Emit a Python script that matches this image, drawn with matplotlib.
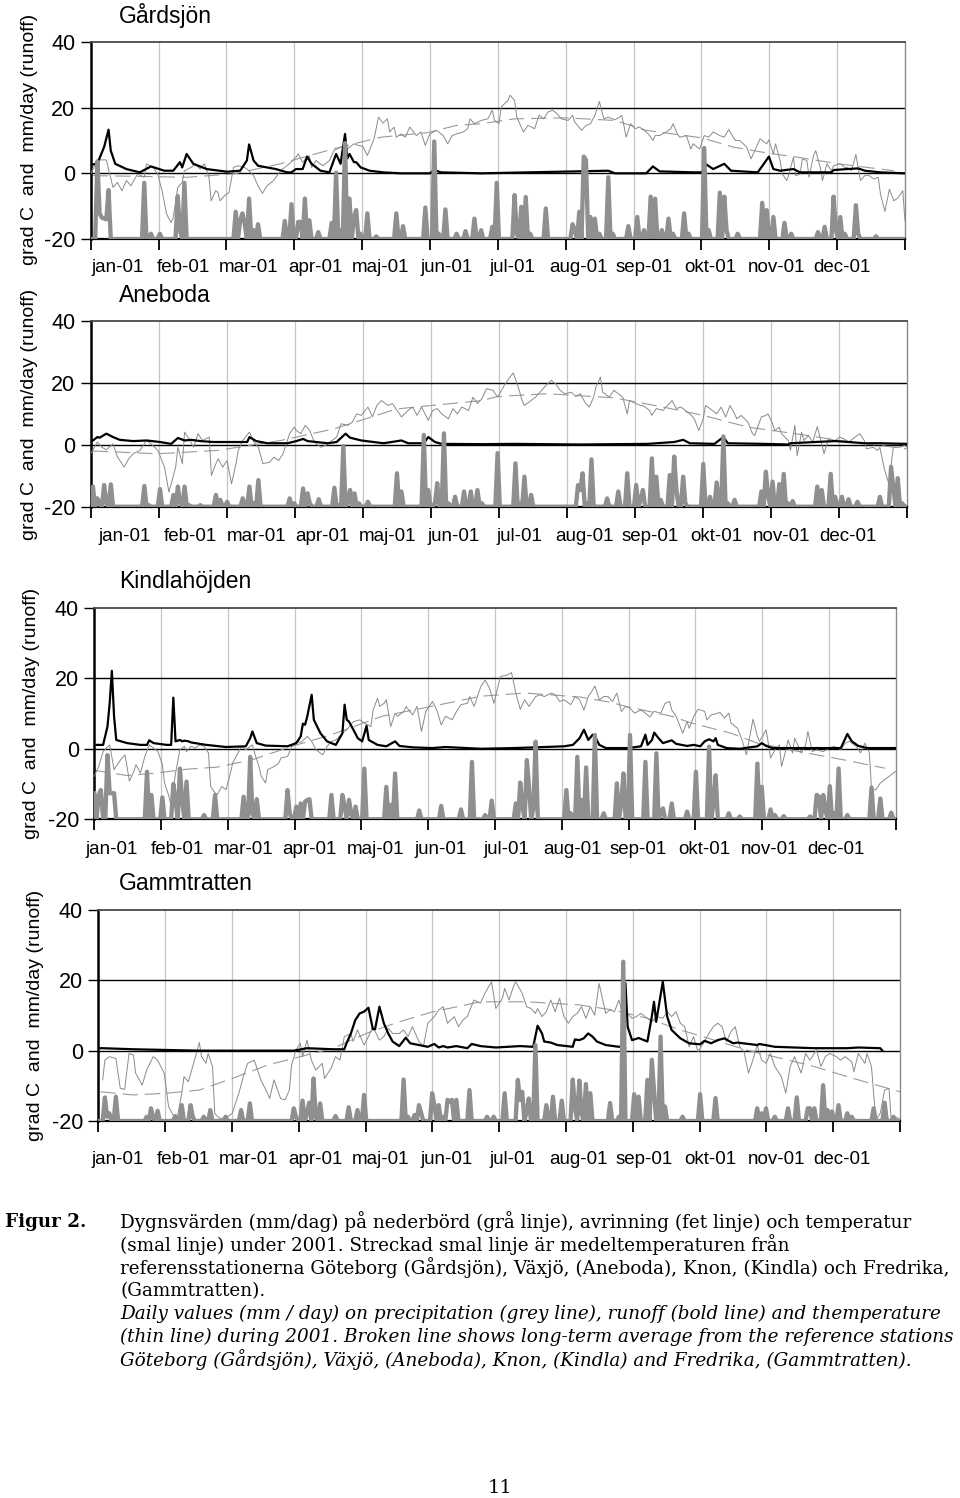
import numpy as np
import matplotlib
matplotlib.use("Agg")
import matplotlib.pyplot as plt

plt.rcParams['font.family'] = ['Liberation Sans', 'DejaVu Sans']
plt.rcParams['lines.scale_dashes'] = False

W, H = 960, 1498

months = ['jan-01', 'feb-01', 'mar-01', 'apr-01', 'maj-01', 'jun-01',
          'jul-01', 'aug-01', 'sep-01', 'okt-01', 'nov-01', 'dec-01']
stations = ['Gårdsjön', 'Aneboda', 'Kindlahöjden', 'Gammtratten']
y_ticks = [-20, 0, 20, 40]
y_tick_labels = ['-20', '0', '20', '40']
y_label = 'grad C  and  mm/day (runoff)'

# ---------------- Gårdsjön ----------------
gard_precip = [(3,23.6),(4,7.8),(5,6.5),(6,6.2),(7,6.0),(8,14.9),(24,17.1),(27,1.6),(31,1.6),(39,13.1),(40,2.7),(42,17.1),
               (65,8.3),(67,5.7),(68,7.8),(69,4.7),(71,12.3),(73,2.7),(75,4.5),(87,5.5),(90,10.6),(93,5.2),(94,5.2),(96,12.3),
               (98,5.7),(102,2.1),(108,4.9),(110,20.2),(112,2.7),(114,29.2),(116,12.3),(118,6.7),(119,8.8),(121,1.6),(124,7.8),
               (128,0.8),(137,7.8),(140,3.9),(150,9.6),(154,29.7),(156,1.6),(159,9.0),(164,1.6),(168,2.4),(172,6.2),(175,2.7),
               (180,3.7),(182,17.1),(190,13.4),(191,1.6),(193,9.8),(195,12.8),(197,1.6),(204,9.3),(216,4.5),(217,2.7),(219,8.3),
               (221,25.1),(222,24.1),(224,6.7),(226,6.2),(228,1.6),(232,18.8),(234,1.6),(241,3.9),(245,6.7),(248,2.7),(251,12.9),
               (253,12.3),(256,2.7),(259,6.2),(261,1.6),(266,7.8),(268,1.6),(275,27.7),(277,2.7),(282,14.1),(284,12.9),(285,2.7),
               (290,1.6),(301,11.0),(303,8.8),(306,6.7),(311,4.9),(314,1.6),(326,2.1),(329,3.7),(333,12.9),(334,2.7),(336,6.7),
               (338,1.6),(343,10.3),(344,1.6),(352,0.8)]
gard_runoff = [(0,2.5),(1,2.7),(3,3.0),(6,8.0),(8,13.3),(9,6.9),(11,2.9),(16,1.3),(22,0.3),(27,2.1),(33,0.8),(37,0.8),(40,3.4),
               (41,1.8),(43,5.9),(46,2.9),(52,1.3),(61,0.5),(67,0.8),(70,3.9),(71,8.8),(73,3.9),(75,2.3),(79,1.8),(83,1.3),(88,0.3),
               (90,0.3),(92,1.3),(95,1.3),(97,5.1),(99,2.9),(103,0.8),(107,0.3),(110,5.9),(112,2.9),(114,12.0),(115,4.5),(116,5.9),
               (118,3.4),(119,3.4),(121,1.8),(125,0.8),(131,0.3),(139,0.0),(152,0.0),(154,1.0),(157,0.3),(175,0.0),(232,0.8),
               (235,0.0),(249,0.0),(252,2.1),(255,0.6),(270,0.3),(274,0.3),(276,2.7),(279,1.3),(284,2.9),(287,0.8),(299,0.3),
               (304,5.1),(306,1.3),(309,0.8),(315,1.3),(318,0.3),(332,0.3),(333,1.0),(339,1.3),(344,1.5),(347,0.8),(354,0.3),(365,0.0)]
gard_temp = [(0,-0.2),(3,4.1),(7,4.1),(10,-4.3),(12,-2.8),(14,-5.3),(16,-2.2),(18,-3.8),(21,-0.2),(24,-1.2),(25,2.9),(28,1.8),
             (30,-0.2),(32,-5.3),(34,-12.4),(36,-15.0),(37,-13.5),(39,-4.3),(41,-2.8),(42,0.8),(45,1.8),(47,2.9),(49,1.3),(51,2.9),
             (53,-1.2),(54,-8.4),(56,-5.3),(57,-5.8),(58,-8.4),(60,-6.8),(62,-5.8),(64,1.8),(66,2.3),(67,2.1),(69,1.8),(71,0.8),
             (73,-0.7),(75,-3.8),(77,-6.1),(79,-3.8),(82,-2.2),(84,-0.2),(86,1.3),(89,2.9),(92,4.9),(93,5.9),(95,3.4),(98,5.4),
             (99,1.8),(101,3.9),(104,2.3),(107,3.9),(109,6.9),(112,8.0),(115,7.4),(118,9.0),(120,8.5),(122,8.2),(124,5.4),
             (127,10.5),(129,17.1),(131,15.3),(133,16.6),(134,12.6),(136,14.1),(137,11.0),(139,12.0),(141,11.0),(143,14.1),
             (146,11.5),(148,12.6),(150,8.5),(152,12.0),(155,13.1),(158,11.5),(160,9.0),(162,11.5),(164,12.0),(167,12.6),
             (169,13.6),(170,16.6),(172,15.1),(175,16.1),(178,16.6),(180,19.2),(181,16.1),(183,15.1),(184,20.2),(187,22.2),
             (188,23.8),(190,22.2),(191,17.1),(193,14.1),(194,12.6),(196,14.6),(199,13.6),(201,17.7),(203,16.6),(205,18.7),
             (207,19.2),(209,18.2),(211,16.6),(214,16.1),(216,17.7),(217,15.6),(220,13.1),(222,14.6),(224,15.1),(226,17.7),
             (228,21.9),(230,16.6),(232,17.1),(235,16.3),(237,17.1),(238,17.7),(239,14.6),(240,11.0),(242,15.1),(244,13.6),
             (246,14.1),(249,12.6),(250,12.0),(252,10.0),(253,11.5),(255,11.5),(258,12.6),(260,13.6),(261,15.1),(263,12.0),
             (264,11.0),(267,11.5),(269,7.4),(270,9.0),(273,7.4),(275,11.5),(277,11.0),(279,12.6),(282,11.5),(284,11.0),
             (286,13.3),(288,11.0),(289,10.0),(291,10.0),(294,8.0),(296,4.4),(298,7.4),(300,10.5),(303,9.0),(304,10.2),
             (306,5.9),(307,9.0),(309,3.9),(310,-0.2),(312,-2.2),(313,-0.2),(315,4.9),(316,-0.7),(318,-0.2),(319,4.4),
             (321,3.9),(322,-1.2),(324,5.4),(325,6.9),(327,1.8),(328,-2.2),(330,2.9),(332,0.8),(333,2.3),(336,2.9),(338,1.8),
             (339,1.8),(341,0.8),(343,5.7),(345,-2.2),(347,-0.7),(349,-0.7),(351,-1.7),(353,-1.2),(354,-6.3),(356,-11.6),
             (358,-4.8),(360,-8.4),(362,-7.3),(364,-5.3),(365,-14.5)]
gard_avg = [(1,-0.7),(28,-1.0),(43,-1.2),(64,-0.2),(85,2.9),(109,7.5),(130,11.0),(151,12.4),(164,14.6),(175,15.1),(190,16.6),
            (213,16.9),(235,16.1),(249,13.1),(274,10.8),(288,8.0),(304,6.1),(317,4.9),(335,2.9),(360,0.8)]

# ---------------- Aneboda ----------------
aneb_precip = [(1,6.5),(3,2.7),(4,1.1),(6,7.0),(7,1.1),(9,7.2),(24,6.7),(26,0.5),(31,5.7),(37,3.8),(39,6.5),(40,1.1),(42,6.5),
               (44,0.5),(49,0.5),(56,3.8),(58,2.2),(61,1.6),(68,2.7),(71,6.5),(73,1.1),(75,8.6),(89,2.7),(91,1.1),(95,5.9),
               (97,4.3),(98,1.1),(102,2.4),(109,6.1),(111,0.5),(113,19.6),(115,1.1),(116,5.4),(118,4.3),(120,1.1),(124,1.6),
               (137,10.8),(139,4.9),(149,23.2),(151,5.4),(154,1.1),(155,7.6),(158,23.7),(160,1.1),(163,3.2),(167,4.9),(170,4.9),
               (173,5.4),(175,1.1),(182,17.3),(190,14.0),(192,1.1),(194,9.7),(197,3.8),(218,7.0),(219,5.4),(220,10.8),(222,1.1),
               (224,15.3),(231,2.7),(236,4.9),(240,10.8),(244,7.0),(246,2.2),(247,5.4),(251,15.6),(253,9.7),(255,2.2),(259,10.2),
               (261,16.2),(262,5.4),(265,9.7),(266,1.1),(274,13.8),(277,3.2),(280,7.8),(283,22.7),(285,1.1),(288,2.2),(300,4.9),
               (302,11.3),(303,3.8),(305,8.1),(308,7.3),(310,10.6),(312,1.1),(314,1.8),(325,6.5),(327,5.4),(331,10.6),(333,3.2),
               (336,3.2),(339,2.4),(343,1.6),(353,3.2),(358,12.9),(359,6.5),(361,9.2),(363,1.1)]
aneb_runoff = [(0,1.0),(1,1.4),(3,2.5),(4,2.3),(7,3.6),(10,2.5),(13,1.6),(19,1.2),(25,1.4),(31,0.9),(36,0.3),(39,2.2),(42,1.4),
               (45,1.6),(49,1.2),(55,0.9),(64,0.9),(70,0.9),(71,2.5),(74,1.2),(79,0.5),(88,0.5),(92,1.2),(95,1.9),(97,1.2),
               (106,0.5),(110,0.9),(114,3.6),(116,2.3),(121,1.4),(131,0.5),(139,1.4),(142,0.5),(149,0.5),(151,2.5),(154,0.9),
               (157,0.3),(175,0.2),(189,0.3),(219,0.1),(249,0.3),(261,0.9),(265,1.6),(268,0.5),(279,0.3),(283,2.5),(285,0.5),
               (301,0.3),(312,0.1),(313,0.5),(324,0.9),(333,1.2),(339,0.9),(346,0.5),(353,0.5),(365,0.3)]
aneb_temp = [(0,-2.9),(3,0.9),(5,-0.8),(7,-1.6),(10,0.3),(12,-4.0),(15,-7.2),(17,-4.5),(19,-2.9),(22,-1.8),(25,1.4),(27,0.3),
             (30,-1.8),(33,-7.2),(35,-15.3),(36,-12.6),(38,-7.2),(39,-0.8),(41,-6.1),(42,4.1),(44,1.9),(46,-0.8),(48,3.6),
             (50,1.4),(53,2.5),(54,-9.9),(56,-6.1),(57,-4.5),(59,-7.2),(61,-5.1),(63,-12.6),(65,-6.1),(66,-1.8),(68,1.4),
             (71,4.1),(73,0.9),(75,-0.8),(77,-6.1),(80,-5.6),(82,-4.0),(84,-5.1),(86,-2.9),(89,3.6),(91,5.7),(92,4.6),(94,3.6),
             (96,6.3),(98,4.6),(100,0.9),(103,-0.8),(105,-0.2),(107,0.9),(110,2.5),(112,6.8),(115,6.3),(117,7.3),(119,10.0),
             (121,9.5),(124,12.2),(126,9.0),(128,12.7),(130,14.3),(133,12.7),(135,13.3),(137,11.1),(139,9.0),(142,11.1),
             (144,12.2),(146,9.5),(148,12.2),(151,7.9),(153,11.1),(155,11.7),(157,10.0),(160,8.4),(162,11.7),(164,10.0),
             (166,12.2),(169,11.1),(171,15.4),(173,13.3),(175,14.9),(177,18.1),(180,17.6),(182,15.4),(185,19.2),(187,21.4),
             (189,23.2),(191,19.2),(193,14.3),(194,12.7),(197,14.3),(199,15.4),(201,17.0),(203,18.7),(206,20.8),(208,19.7),
             (210,17.6),(212,16.5),(215,17.0),(217,15.6),(219,16.5),(221,13.8),(223,12.2),(225,15.4),(226,18.7),(228,21.9),
             (229,17.0),(232,15.4),(234,17.6),(236,16.5),(238,15.4),(240,10.0),(241,14.3),(244,13.3),(246,12.7),(247,12.7),
             (250,11.1),(251,9.5),(253,11.7),(256,11.1),(258,12.7),(260,14.3),(262,11.7),(264,12.2),(266,11.1),(268,10.0),
             (270,8.4),(272,4.6),(274,8.4),(275,12.7),(277,11.7),(280,10.0),(282,12.2),(284,9.0),(286,12.7),(288,10.0),
             (289,8.4),(291,9.5),(294,7.3),(296,3.6),(297,3.0),(300,9.0),(302,9.5),(303,10.0),(305,6.8),(306,4.6),(308,5.7),
             (309,3.6),(312,1.4),(313,-1.8),(315,6.3),(316,-3.5),(318,4.1),(319,1.4),(321,3.0),(323,0.9),(325,5.9),(327,0.3),
             (328,-2.9),(330,1.9),(333,1.4),(335,2.5),(337,1.9),(339,0.9),(342,2.5),(344,3.6),(346,1.4),(347,-1.3),(350,-0.8),
             (352,-1.8),(353,-0.8),(355,-7.8),(357,-12.6),(359,-0.8),(362,-0.8),(364,-0.2),(365,-0.8)]
aneb_avg = [(1,-2.0),(30,-2.9),(57,-1.8),(85,1.4),(109,5.2),(137,11.6),(175,14.3),(182,15.6),(204,16.5),(234,15.2),
            (256,12.2),(274,9.5),(294,5.7),(315,3.6),(335,1.4),(365,-1.3)]

# ---------------- Kindlahöjden ----------------
kind_precip = [(0,7.4),(2,6.9),(3,8.3),(4,0.3),(6,18.2),(7,7.4),(8,7.4),(9,7.4),(24,13.5),(26,6.9),(31,6.2),(36,10.0),(37,5.5),
               (39,14.4),(40,5.5),(42,10.7),(50,1.2),(55,6.9),(68,6.4),(71,17.7),(72,1.7),(74,5.7),(88,8.3),(89,1.7),(92,3.6),
               (94,4.5),(96,5.0),(97,5.5),(98,5.7),(108,6.9),(113,6.9),(114,3.6),(116,5.5),(117,1.7),(119,3.6),(123,14.4),
               (133,9.2),(135,4.1),(137,13.0),(148,2.5),(158,3.8),(167,2.8),(172,16.3),(178,1.2),(181,5.3),(192,4.5),(194,10.4),
               (195,3.6),(197,16.8),(198,9.2),(200,3.1),(201,22.0),(215,8.3),(217,1.7),(220,17.7),(222,5.5),(224,14.7),(228,23.9),
               (232,1.7),(238,10.2),(240,4.5),(241,13.0),(244,23.9),(251,16.3),(256,18.7),(258,1.7),(259,3.1),(263,4.5),(270,2.2),
               (274,13.5),(280,20.6),(282,4.5),(283,12.5),(289,1.7),(294,0.8),(302,15.8),(304,9.2),(308,2.8),(310,1.2),(314,0.9),
               (326,0.8),(329,6.9),(330,6.5),(332,6.9),(333,2.6),(335,9.4),(337,1.7),(339,14.4),(343,1.2),(354,9.0),(358,5.9),
               (363,1.9)]
kind_runoff = [(1,1.1),(4,1.1),(6,6.3),(7,12.9),(8,22.1),(9,9.2),(10,2.5),(15,1.6),(21,1.1),(24,1.1),(25,2.4),(27,1.6),(33,1.1),
               (35,1.1),(36,14.5),(37,2.1),(39,2.5),(40,2.1),(41,2.3),(43,2.1),(44,1.8),(51,1.1),(60,0.5),(69,0.7),(71,3.0),
               (72,4.9),(74,1.6),(78,0.9),(88,0.7),(92,1.6),(94,3.5),(95,7.1),(96,6.8),(97,9.2),(99,15.3),(100,8.2),(103,4.4),
               (106,2.1),(110,1.1),(113,4.4),(114,12.5),(115,8.2),(116,7.7),(118,5.4),(120,3.0),(122,2.1),(124,6.5),(125,2.5),
               (129,1.1),(133,0.7),(137,2.1),(139,0.8),(145,0.4),(154,0.2),(160,0.5),(176,0.0),(191,0.2),(201,0.4),(214,0.7),
               (218,1.1),(221,3.0),(223,5.4),(225,2.5),(227,4.0),(228,3.5),(230,1.1),(233,0.2),(243,0.2),(249,0.7),(251,4.0),
               (252,1.1),(254,2.5),(255,4.6),(257,3.0),(259,1.6),(263,2.4),(265,1.4),(270,0.8),(273,1.1),(276,0.7),(278,2.1),
               (280,2.7),(282,2.1),(283,3.0),(284,1.1),(288,0.2),(294,0.0),(302,0.7),(304,1.6),(306,0.8),(309,0.2),(328,0.2),
               (340,0.2),(343,4.2),(345,2.1),(348,0.8),(352,0.2),(365,0.2)]
kind_temp = [(0,-7.8),(2,-5.0),(4,-0.8),(7,1.1),(9,-5.9),(12,-3.1),(14,-1.7),(16,-9.2),(18,-6.4),(19,-4.5),(21,-6.9),(23,-2.2),
             (25,1.1),(27,0.2),(29,-0.8),(31,-4.5),(32,-9.7),(34,-13.5),(35,-16.3),(37,-6.9),(39,-0.3),(41,0.7),(42,-0.8),
             (44,0.7),(46,0.2),(48,1.1),(50,0.7),(52,-1.2),(53,-10.7),(55,-12.5),(56,-13.0),(58,-10.7),(60,-11.6),(62,-6.9),
             (63,-4.1),(65,-1.7),(67,0.7),(69,-0.3),(72,1.1),(73,-1.2),(75,-5.0),(76,-7.8),(78,-9.7),(79,-5.9),(82,-5.0),
             (84,-4.1),(85,-2.6),(88,-2.2),(90,0.7),(92,2.1),(94,1.8),(97,3.5),(99,2.1),(101,-0.3),(104,-1.7),(106,0.7),
             (108,2.1),(110,2.5),(113,4.4),(115,5.4),(118,7.7),(121,8.2),(123,7.3),(126,6.3),(127,11.0),(129,14.3),(130,12.0),
             (132,12.9),(133,13.9),(135,6.3),(137,10.1),(138,9.2),(141,10.6),(142,12.0),(145,9.6),(147,12.0),(149,4.9),
             (151,10.6),(154,13.4),(156,11.0),(158,6.8),(160,9.2),(163,8.2),(165,10.6),(167,12.5),(170,12.9),(171,14.8),
             (173,12.0),(176,17.6),(178,19.5),(180,17.2),(182,12.9),(184,18.1),(185,20.5),(188,20.9),(190,21.6),(192,15.8),
             (194,11.2),(196,13.9),(198,12.0),(201,14.8),(203,15.3),(205,14.8),(208,15.8),(210,15.3),(212,13.4),(214,13.9),
             (217,12.5),(219,14.8),(221,13.9),(223,11.0),(225,14.8),(227,16.7),(228,17.8),(230,13.9),(232,14.8),(234,14.8),
             (236,13.4),(238,15.8),(240,10.6),(242,12.0),(244,11.5),(246,10.1),(249,11.0),(251,10.1),(253,9.0),(255,10.6),
             (258,10.1),(260,12.9),(262,13.4),(263,11.0),(265,9.2),(268,4.4),(270,7.7),(271,5.8),(273,9.2),(275,11.2),
             (278,10.6),(279,8.2),(281,9.6),(283,9.9),(285,10.3),(287,8.7),(289,10.1),(290,7.3),(293,5.8),(295,2.5),(297,-1.7),
             (298,1.6),(300,8.4),(302,3.5),(303,2.1),(306,5.4),(308,-2.6),(310,-0.3),(312,1.1),(313,-5.0),(315,-0.3),(316,2.5),
             (318,-1.2),(319,3.0),(322,-1.2),(324,1.1),(325,4.9),(327,-0.8),(329,-0.3),(332,-0.8),(335,0.2),(337,0.7),(340,-0.3),
             (342,1.6),(344,2.1),(347,0.7),(349,-1.2),(351,1.6),(353,-1.2),(354,-11.6),(356,-11.6),(358,-9.7),(361,-8.3),
             (365,-6.4)]
kind_avg = [(0,-6.1),(15,-7.6),(28,-6.9),(42,-5.8),(56,-5.2),(72,-3.1),(90,0.7),(108,4.0),(131,9.2),(163,13.2),(176,14.9),
            (196,15.8),(221,14.7),(234,13.3),(243,11.9),(263,9.2),(272,7.3),(290,4.4),(302,1.6),(321,-0.8),(341,-3.1),(360,-5.5)]

# ---------------- Gammtratten ----------------
gamm_precip = [(3,6.7),(4,1.2),(5,2.2),(8,6.9),(22,1.2),(24,3.6),(25,0.8),(27,2.9),(35,1.4),(38,4.5),(42,4.5),(43,1.2),(48,1.2),
               (51,3.1),(58,1.2),(65,3.1),(69,5.0),(89,3.6),(90,1.2),(93,5.8),(95,2.2),(96,5.2),(98,12.1),(99,1.2),(101,5.0),
               (108,1.4),(114,3.9),(118,3.1),(121,7.4),(139,11.8),(141,1.2),(144,1.7),(146,4.5),(147,2.2),(152,7.9),(153,4.5),
               (155,4.5),(157,1.2),(159,6.0),(160,5.5),(161,6.0),(163,6.0),(169,8.8),(177,1.2),(180,1.2),(185,7.9),(191,11.7),
               (192,6.0),(193,8.3),(195,2.7),(196,6.4),(199,21.6),(204,4.5),(207,6.9),(211,5.8),(216,11.8),(217,4.1),(219,11.5),
               (220,2.2),(222,10.5),(224,7.9),(233,5.1),(237,1.2),(239,45.3),(244,7.6),(246,6.9),(250,11.7),(252,17.4),(253,8.8),
               (256,24.0),(258,4.1),(266,1.2),(274,7.6),(281,6.5),(300,3.6),(302,2.2),(304,3.6),(308,1.2),(314,3.6),(318,6.7),
               (323,3.6),(324,3.6),(326,3.6),(330,10.2),(332,3.1),(334,2.7),(337,4.5),(341,2.2),(343,1.2),(353,3.6),(358,5.2),
               (362,1.2)]
gamm_runoff = [(1,0.7),(2,0.7),(16,0.4),(31,0.2),(46,0.0),(74,0.0),(89,0.0),(95,0.7),(107,0.4),(112,0.4),(113,2.1),(115,4.9),
               (117,8.7),(119,10.6),(121,11.1),(123,12.2),(125,6.1),(126,6.1),(128,12.5),(130,7.8),(132,4.9),(134,2.6),(137,1.3),
               (140,3.7),(142,2.1),(146,1.6),(150,1.1),(153,1.9),(155,0.9),(157,1.3),(159,0.9),(163,1.3),(168,0.7),(170,1.9),
               (174,1.3),(181,0.9),(192,1.3),(198,1.1),(200,7.1),(202,4.9),(203,2.6),(206,2.3),(209,1.6),(216,1.1),(217,3.2),
               (219,3.0),(221,3.5),(223,4.9),(225,4.0),(227,2.6),(231,1.6),(237,1.1),(239,1.3),(240,19.2),(241,6.8),(243,3.0),
               (246,3.6),(250,2.6),(252,9.7),(253,13.9),(254,8.2),(257,19.6),(259,9.7),(261,5.9),(265,3.5),(269,2.1),(274,1.8),
               (276,2.8),(279,2.1),(282,3.0),(285,3.5),(289,2.1),(291,2.3),(300,1.6),(301,1.9),(308,1.1),(317,0.9),(326,0.7),
               (341,0.7),(346,0.9),(356,0.7),(357,0.0)]
gamm_temp = [(2,-8.3),(3,-2.7),(5,-1.7),(8,-2.2),(10,-10.7),(12,-11.0),(14,-0.8),(16,-1.2),(17,-6.4),(20,-9.8),(22,-5.5),
             (25,-1.7),(27,-2.7),(30,-6.4),(32,-15.9),(34,-18.3),(36,-18.8),(38,-12.1),(39,-7.4),(41,-8.8),(43,-4.5),(44,-2.2),
             (46,2.3),(47,-1.7),(49,-3.6),(50,-0.8),(52,-4.5),(53,-17.8),(55,-19.2),(58,-19.2),(61,-17.8),(64,-12.1),(66,-7.4),
             (68,-3.6),(71,-2.7),(73,-6.4),(74,-8.3),(77,-12.1),(78,-13.6),(80,-8.3),(83,-13.6),(85,-14.0),(87,-11.2),(88,-4.1),
             (90,0.2),(92,2.1),(93,-1.7),(95,3.0),(97,-2.7),(99,-5.5),(102,-3.6),(103,-7.9),(106,-5.0),(108,-1.7),(110,-2.7),
             (112,4.0),(115,4.9),(116,2.6),(118,5.9),(121,1.6),(123,4.0),(125,6.8),(128,3.0),(130,4.0),(132,6.4),(134,4.9),
             (137,4.9),(139,5.9),(141,4.0),(143,6.8),(146,2.6),(148,1.1),(150,7.8),(153,9.7),(155,11.6),(157,12.5),(159,7.8),
             (162,9.7),(164,6.8),(166,8.7),(168,9.7),(171,14.4),(174,13.5),(176,16.3),(179,19.6),(181,12.0),(184,14.9),
             (185,17.7),(187,14.4),(189,18.2),(190,19.6),(193,16.3),(195,12.5),(197,12.0),(199,10.6),(200,12.0),(202,9.7),
             (204,11.1),(206,14.4),(208,11.1),(210,14.9),(212,9.7),(214,7.8),(216,9.7),(218,10.6),(220,12.5),(222,9.2),
             (224,12.5),(226,10.1),(228,19.1),(231,10.6),(233,11.6),(235,11.1),(237,14.4),(238,12.0),(241,10.6),(243,9.2),
             (245,9.7),(247,10.6),(250,9.2),(252,8.2),(254,9.7),(257,9.2),(259,11.1),(261,9.7),(263,11.1),(265,7.8),(267,6.8),
             (269,1.1),(271,4.0),(273,-0.3),(276,2.6),(278,4.9),(280,6.8),(282,7.8),(284,6.8),(286,2.6),(288,5.4),(290,6.8),
             (292,1.1),(294,-0.3),(296,-6.4),(298,-2.7),(300,1.6),(302,-2.7),(304,-3.6),(306,-0.8),(308,-4.5),(311,-7.4),
             (313,-12.1),(315,-4.5),(317,-1.7),(320,-6.4),(322,-0.8),(324,-2.7),(327,0.2),(329,-4.5),(331,-1.7),(333,-0.8),
             (336,-1.7),(338,-2.7),(340,-1.7),(343,-3.1),(344,-6.0),(346,-0.8),(349,-3.6),(350,-0.8),(352,-4.5),(354,-19.7),
             (356,-17.8),(358,-11.2),(360,-10.7),(361,-19.7),(363,-18.8),(365,-19.5)]
gamm_avg = [(1,-11.7),(16,-12.6),(31,-12.1),(46,-11.2),(61,-7.9),(77,-4.1),(92,-1.7),(107,0.7),(122,4.9),(137,8.2),(152,11.0),
            (174,13.9),(195,13.9),(219,13.0),(234,11.6),(250,9.2),(265,5.9),(280,3.1),(295,0.2),(311,-2.2),(326,-4.5),
            (341,-7.4),(365,-11.7)]

# ---------------- caption ----------------
caption_label = 'Figur 2.'
caption_sv = ["Dygnsvärden (mm/dag) på nederbörd (grå linje), avrinning (fet linje) och temperatur",
              "(smal linje) under 2001. Streckad smal linje är medeltemperaturen från",
              "referensstationerna Göteborg (Gårdsjön), Växjö, (Aneboda), Knon, (Kindla) och Fredrika,",
              "(Gammtratten)."]
caption_en = ["Daily values (mm / day) on precipitation (grey line), runoff (bold line) and themperature",
              "(thin line) during 2001. Broken line shows long-term average from the reference stations",
              "Göteborg (Gårdsjön), Växjö, (Aneboda), Knon, (Kindla) and Fredrika, (Gammtratten)."]
page_number = '11'

# ---------------- layout (pixels) ----------------
panels = [
    dict(name=stations[0], precip=gard_precip, runoff=gard_runoff, temp=gard_temp, avg=gard_avg,
         box=(90.7, 42, 905.0, 239), lab_y=267, lab_c0=117.3, lab_step=65.9, ylab=(30, 139)),
    dict(name=stations[1], precip=aneb_precip, runoff=aneb_runoff, temp=aneb_temp, avg=aneb_avg,
         box=(90.7, 321, 906.7, 506.7), lab_y=536, lab_c0=125.0, lab_step=65.7, ylab=(30, 414)),
    dict(name=stations[2], precip=kind_precip, runoff=kind_runoff, temp=kind_temp, avg=kind_avg,
         box=(94.3, 607.7, 895.7, 819.3), lab_y=850, lab_c0=112.0, lab_step=65.8, ylab=(32, 713)),
    dict(name=stations[3], precip=gamm_precip, runoff=gamm_runoff, temp=gamm_temp, avg=gamm_avg,
         box=(98.3, 910, 900.0, 1121), lab_y=1160, lab_c0=117.3, lab_step=65.9, ylab=(36, 1015)),
]

fig = plt.figure(figsize=(W / 100, H / 100), dpi=100)
fig.patch.set_facecolor('white')

def fx(px):
    return px / W

def fy(py):
    return 1 - py / H

month_edges = [i * 365 / 12 for i in range(13)]
PREC_C = '#8f8f8f'
TEMP_C = '#8a8a8a'
AVG_C = '#9a9a9a'

for p in panels:
    l, t, r, b = p['box']
    ax = fig.add_axes([fx(l), fy(b), fx(r) - fx(l), (b - t) / H])
    ax.set_xlim(0, 365)
    ax.set_ylim(-20, 40)

    for xe in month_edges[1:-1]:
        ax.axvline(xe, color='#c4c4c4', lw=0.9, zorder=0)
    for yv in (0, 20):
        ax.axhline(yv, color='black', lw=1.0, zorder=1)

    # long-term average (dashed)
    ad, av = zip(*p['avg'])
    ax.plot(ad, av, color=AVG_C, lw=0.8, dashes=(11, 5), zorder=2)
    # temperature
    td, tv = zip(*p['temp'])
    ax.plot(td, tv, color=TEMP_C, lw=0.7, zorder=3)
    # runoff
    rd, rv = zip(*p['runoff'])
    ax.plot(rd, rv, color='black', lw=1.6, zorder=4, solid_joinstyle='round')
    # precipitation (daily, zero on days without rain), plotted from the -20 baseline
    days = np.arange(366)
    prec = np.zeros(366)
    pd_, pv_ = zip(*p['precip'])
    prec[list(pd_)] = pv_
    ax.plot(days, prec - 20, color=PREC_C, lw=3.1, zorder=5, solid_joinstyle='round', clip_on=True)

    # spines
    ax.spines['left'].set_color('black'); ax.spines['left'].set_linewidth(1.8)
    ax.spines['bottom'].set_color('black'); ax.spines['bottom'].set_linewidth(1.6)
    ax.spines['bottom'].set_zorder(4.5)
    ax.spines['top'].set_color('#4a4a4a'); ax.spines['top'].set_linewidth(1.3)
    ax.spines['right'].set_color('#8a8a8a'); ax.spines['right'].set_linewidth(1.0)

    ax.set_yticks(y_ticks)
    ax.set_yticklabels(y_tick_labels)
    ax.tick_params(axis='y', direction='out', length=7, width=1.0, pad=4, labelsize=15.5, colors='black')
    ax.set_xticks(month_edges)
    ax.tick_params(axis='x', direction='out', length=8, width=1.3, labelbottom=False)

    # month labels
    for i, m in enumerate(months):
        cx = p['lab_c0'] + i * p['lab_step']
        fig.text(fx(cx), fy(p['lab_y']), m, ha='center', va='center', fontsize=13.5)

    # station title
    fig.text(fx(119), fy(t - 26), p['name'], ha='left', va='center', fontsize=16.5)
    # y-label
    fig.text(fx(p['ylab'][0]), fy(p['ylab'][1]), y_label, rotation=90, ha='center', va='center', fontsize=14)

# caption
cap_size = 13.2
fig.text(fx(5), fy(1222), caption_label, ha='left', va='center', fontsize=cap_size,
         family='DejaVu Serif', fontweight='bold')
line_y = [1222, 1245, 1268, 1291]
for yv, s in zip(line_y, caption_sv):
    fig.text(fx(120), fy(yv), s, ha='left', va='center', fontsize=cap_size, family='DejaVu Serif')
line_y2 = [1314, 1337, 1360]
for yv, s in zip(line_y2, caption_en):
    fig.text(fx(120), fy(yv), s, ha='left', va='center', fontsize=cap_size, family='DejaVu Serif',
             style='italic')
fig.text(fx(500), fy(1488), page_number, ha='center', va='center', fontsize=14, family='DejaVu Serif')

fig.savefig('out.png', dpi=100, facecolor='white')
